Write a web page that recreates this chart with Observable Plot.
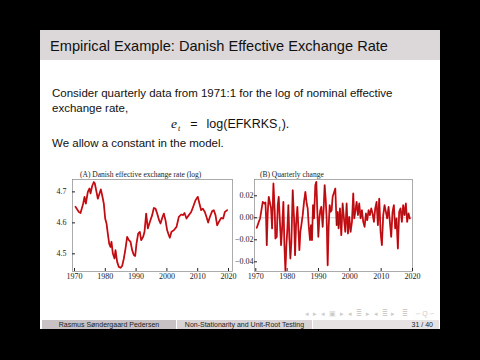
<!DOCTYPE html>
<html><head><meta charset="utf-8">
<script src="https://cdn.jsdelivr.net/npm/d3@7"></script>
<script src="https://cdn.jsdelivr.net/npm/@observablehq/plot@0.6"></script>
<style>
body{margin:0;background:#000;width:480px;height:360px;overflow:hidden;position:relative;font-family:"Liberation Sans",Arial,sans-serif;color:#111;}
.abs{position:absolute;white-space:nowrap;}
#slide{left:40px;top:30px;width:400px;height:299px;background:#fff;}
#titlebar{left:40px;top:30px;width:400px;height:30px;background:#dcd7d8;}
#title{left:50px;top:38px;font-size:14.6px;line-height:16px;color:#111;}
.body{font-size:11.5px;line-height:13px;left:52px;}
.ctitle{font-family:"Liberation Serif",serif;font-size:7.5px;line-height:8px;color:#222;top:171px;}
.foot{top:320px;height:9px;font-size:7px;line-height:9px;text-align:center;color:#222;}
.math{font-family:"Liberation Sans",Arial,sans-serif;font-size:12.5px;line-height:13px;}
.sub{font-family:"Liberation Serif",serif;font-style:italic;font-size:8px;position:relative;top:3px;padding:0 1px;}
</style></head>
<body>
<div id="slide" class="abs"></div>
<div id="titlebar" class="abs"></div>
<div id="title" class="abs">Empirical Example: Danish Effective Exchange Rate</div>
<div class="abs body" style="top:87px">Consider quarterly data from 1971:1 for the log of nominal effective</div>
<div class="abs body" style="top:101.5px">exchange rate,</div>
<div class="abs math" style="left:171px;top:116.5px"><i style="font-family:'Liberation Serif',serif;font-size:13.5px">e</i><span class="sub">t</span><span style="padding:0 9px">=</span>log(EFKRKS<span class="sub">t</span>).</div>
<div class="abs body" style="top:137px">We allow a constant in the model.</div>
<div class="abs ctitle" style="left:80px">(A) Danish effective exchange rate (log)</div>
<div class="abs ctitle" style="left:260px">(B) Quarterly change</div>
<div class="abs" style="left:305px;top:310px;font-size:7px;color:#cccccc;letter-spacing:1px">◂ ▸ ◂ ▣ ▸ ◂ ≣ ▸ ◂ ≣ ▸ &nbsp;≣ &nbsp;∽Q∽</div>
<div class="abs foot" style="left:42px;width:134px;background:#c9c2c5">Rasmus Søndergaard Pedersen</div>
<div class="abs foot" style="left:177px;width:135px;background:#d9d3d5">Non-Stationarity and Unit-Root Testing</div>
<div class="abs foot" style="left:313px;width:126px;background:#e6e2e3;text-align:right"><span style="padding-right:6px">31 / 40</span></div>
<div id="chartA"></div>
<div id="chartB"></div>
<script>
const xTicks = [1970, 1980, 1990, 2000, 2010, 2020];
const levelTicks = [4.5, 4.6, 4.7];
const changeTicks = [-0.04, -0.02, 0, 0.02];

const levelYears = [1970.32,1971.41,1971.95,1972.81,1973.25,1973.68,1974.33,1974.87,1975.19,1975.74,1976.28,1976.60,1977.14,1977.58,1978.12,1978.55,1978.98,1979.52,1979.96,1980.39,1980.82,1981.26,1981.69,1982.01,1982.45,1982.99,1983.31,1983.85,1984.39,1984.94,1985.48,1986.02,1986.56,1987.10,1987.64,1988.18,1988.72,1989.26,1989.70,1990.13,1990.67,1991.21,1991.65,1992.29,1992.73,1993.27,1993.81,1994.46,1995.22,1995.76,1996.30,1996.84,1997.49,1997.92,1998.57,1999.00,1999.55,2000.09,2000.63,2000.95,2001.49,2002.25,2003.12,2003.87,2004.63,2005.28,2005.71,2006.36,2007.12,2007.88,2008.53,2009.29,2010.04,2010.58,2011.13,2011.67,2012.32,2012.86,2013.40,2013.94,2014.70,2015.24,2015.78,2016.32,2016.86,2017.62,2018.27,2018.81,2019.57];
const levelValues = [4.652,4.635,4.632,4.662,4.684,4.662,4.700,4.711,4.695,4.719,4.732,4.727,4.700,4.678,4.695,4.708,4.689,4.662,4.614,4.598,4.565,4.533,4.522,4.539,4.501,4.485,4.512,4.474,4.458,4.455,4.461,4.485,4.517,4.555,4.544,4.539,4.512,4.496,4.493,4.533,4.565,4.571,4.544,4.555,4.571,4.630,4.582,4.603,4.625,4.648,4.646,4.630,4.608,4.598,4.619,4.630,4.608,4.576,4.560,4.552,4.571,4.576,4.587,4.619,4.627,4.625,4.632,4.614,4.625,4.635,4.652,4.673,4.684,4.662,4.641,4.646,4.635,4.619,4.601,4.619,4.638,4.641,4.625,4.592,4.603,4.616,4.614,4.635,4.641];

const changeYears = [1970.32,1970.96,1971.38,1971.80,1972.23,1972.76,1973.08,1973.29,1973.50,1973.82,1974.14,1974.56,1974.88,1975.20,1975.63,1976.05,1976.26,1976.69,1977.01,1977.32,1977.75,1978.07,1978.39,1978.81,1979.13,1979.45,1979.77,1980.08,1980.40,1980.72,1981.04,1981.36,1981.78,1982.21,1982.53,1982.84,1983.27,1983.59,1983.91,1984.22,1984.54,1984.97,1985.39,1985.82,1986.24,1986.56,1986.88,1987.30,1987.62,1987.94,1988.26,1988.58,1989.00,1989.32,1989.64,1989.96,1990.28,1990.59,1990.91,1991.34,1991.66,1991.97,1992.29,1992.61,1992.93,1993.25,1993.57,1993.89,1994.20,1994.52,1995.37,1995.80,1996.11,1996.43,1996.86,1997.28,1997.71,1998.13,1998.56,1998.98,1999.41,1999.83,2000.25,2000.68,2001.10,2001.42,2001.74,2002.17,2002.59,2003.01,2003.44,2003.86,2004.29,2004.71,2005.14,2005.56,2005.99,2006.41,2006.84,2007.26,2007.69,2008.11,2008.54,2008.96,2009.39,2009.81,2010.23,2010.66,2011.08,2011.51,2011.93,2012.36,2012.78,2013.21,2013.63,2014.05,2014.48,2014.90,2015.33,2015.75,2016.18,2016.60,2017.03,2017.45,2017.88,2018.30,2018.73,2019.15];
const changeValues = [-0.0091,-0.0037,-0.0006,0.0069,0.0145,0.0130,0.0139,-0.0006,-0.0249,0.0054,0.0191,0.0130,0.0085,-0.0097,0.0312,0.0054,-0.0188,-0.0173,0.0115,0.0191,-0.0067,-0.0249,-0.0097,0.0145,-0.0249,-0.0480,-0.0249,-0.0097,0.0115,-0.0188,-0.0370,-0.0218,0.0251,-0.0006,-0.0340,-0.0067,0.0100,-0.0097,-0.0294,-0.0128,-0.0067,0.0024,0.0145,0.0236,0.0130,0.0085,-0.0067,-0.0203,-0.0067,-0.0203,0.0115,-0.0006,0.0297,0.0327,0.0054,-0.0173,-0.0006,0.0069,0.0100,-0.0082,0.0085,0.0297,0.0175,-0.0006,-0.0431,-0.0082,0.0115,0.0054,0.0069,0.0191,0.0266,-0.0067,0.0054,-0.0097,0.0085,-0.0158,0.0130,-0.0006,-0.0128,0.0130,-0.0143,0.0009,-0.0128,-0.0037,0.0221,-0.0006,0.0054,0.0145,0.0024,0.0130,-0.0006,0.0069,-0.0037,-0.0082,0.0039,-0.0022,0.0069,0.0024,0.0085,0.0039,-0.0037,0.0085,0.0145,-0.0067,0.0175,-0.0128,-0.0249,0.0024,0.0115,0.0054,-0.0006,0.0100,-0.0037,-0.0173,0.0054,0.0115,-0.0097,-0.0006,-0.0279,0.0054,0.0085,-0.0037,0.0115,0.0024,0.0130,-0.0037,0.0039,-0.0006];

const levelData = levelYears.map((y, i) => ({year: y, value: levelValues[i]}));
const changeData = changeYears.map((y, i) => ({year: y, value: changeValues[i]}));

const common = {
  width: 195, height: 115, marginTop: 9, marginBottom: 14,
  style: {fontFamily: "'Liberation Serif', serif", fontSize: "8px", background: "transparent", color: "#222", overflow: "visible"}
};

const lineMarks = (data) => [
  Plot.line(data, {x: "year", y: "value", stroke: "#e3141b", strokeWidth: 1.8}),
  Plot.line(data, {x: "year", y: "value", stroke: "#5a0a0a", strokeWidth: 0.45, strokeOpacity: 0.85})
];

const chartA = Plot.plot({
  ...common, marginLeft: 28, marginRight: 7,
  x: {domain: [1969.35, 2021.3]},
  y: {domain: [4.443, 4.74]},
  marks: [
    Plot.frame({stroke: "#888", strokeWidth: 0.7}),
    Plot.axisX({ticks: xTicks, tickFormat: d => String(d), tickSize: -3, tickPadding: 5, label: null}),
    Plot.axisY({ticks: levelTicks, tickFormat: d3.format(".1f"), tickSize: -3, tickPadding: 9, label: null}),
    ...lineMarks(levelData)
  ]
});
chartA.style.position = "absolute"; chartA.style.left = "44px"; chartA.style.top = "170px";
document.getElementById("chartA").appendChild(chartA);

const chartB = Plot.plot({
  ...common, marginLeft: 28, marginRight: 9,
  x: {domain: [1969.59, 2020.0]},
  y: {domain: [-0.0488, 0.0348]},
  marks: [
    Plot.frame({stroke: "#888", strokeWidth: 0.7}),
    Plot.ruleY([0], {stroke: "#999", strokeWidth: 0.5}),
    Plot.axisX({ticks: xTicks, tickFormat: d => String(d), tickSize: -3, tickPadding: 5, label: null}),
    Plot.axisY({ticks: changeTicks, tickFormat: d3.format(".2f"), tickSize: -3, tickPadding: 4, label: null}),
    ...lineMarks(changeData)
  ]
});
chartB.style.position = "absolute"; chartB.style.left = "226px"; chartB.style.top = "170px";
document.getElementById("chartB").appendChild(chartB);
</script>
</body></html>
